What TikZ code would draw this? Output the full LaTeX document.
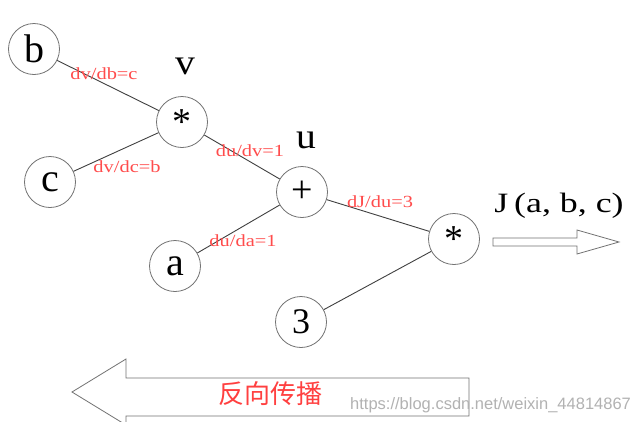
\documentclass[tikz,border=0pt]{standalone}
\usepackage{graphicx}
\usepackage{fontspec}
\setmainfont{Liberation Serif}
\newfontfamily\cjk{Noto Sans CJK SC}
\newfontfamily\wmfont{Liberation Sans}
\newcommand{\wide}[2]{\scalebox{#1}[1]{#2}}
\begin{document}
\begin{tikzpicture}[x=1pt,y=-1pt,
  opnode/.style={circle,draw=black!55,line width=0.8pt,minimum size=51pt,inner sep=0pt,font=\fontsize{40}{40}\selectfont,fill=white},
  edgeline/.style={draw=black!75,line width=0.9pt},
  elabel/.style={text=red!70!white,font=\fontsize{17}{17}\selectfont,inner sep=0pt},
  vlabel/.style={font=\fontsize{36}{36}\selectfont,inner sep=0pt},
  hollowarrow/.style={draw=black!55,line width=0.8pt,fill=white}]
\useasboundingbox (0,0) rectangle (637,421);
\fill[white] (0,0) rectangle (637,421);
% nodes
\node[opnode] (b) at (34,49) {b};
\node[opnode] (v) at (182,122) {\fontsize{38}{38}\selectfont\raisebox{-11.5pt}{*}};
\node[opnode] (c) at (50,182) {c};
\node[opnode] (u) at (302,192) {\fontsize{38}{38}\selectfont +};
\node[opnode] (a) at (175,266) {a};
\node[opnode] (J) at (454,239) {\fontsize{38}{38}\selectfont\raisebox{-11.5pt}{*}};
\node[opnode] (three) at (301,322) {\fontsize{36}{36}\selectfont 3};
% edges
\draw[edgeline] (b) -- (v);
\draw[edgeline] (c) -- (v);
\draw[edgeline] (v) -- (u);
\draw[edgeline] (a) -- (u);
\draw[edgeline] (u) -- (J);
\draw[edgeline] (three) -- (J);
% variable labels
\node[vlabel] (vl) at (185,66) {\wide{1.1}{v}};
\node[vlabel] (ul) at (306,140) {\wide{1.1}{u}};
\node[font=\fontsize{28}{28}\selectfont,inner sep=0pt] (Jl) at (559,206) {\wide{1.28}{J\,(a,\ b,\ c)}};
% edge labels
\node[elabel] (l1) at (104,74) {\wide{1.2}{dv/db=c}};
\node[elabel] (l2) at (127,167) {\wide{1.2}{dv/dc=b}};
\node[elabel] (l3) at (250,151) {\wide{1.2}{du/dv=1}};
\node[elabel] (l4) at (243,241) {\wide{1.2}{du/da=1}};
\node[elabel] (l5) at (380,202) {\wide{1.2}{dJ/du=3}};
% forward arrow
\draw[hollowarrow] (493,238) -- (577,238) -- (577,230) -- (619,242) -- (577,254) -- (577,246) -- (493,246) -- cycle;
% backward arrow
\draw[hollowarrow] (469,378) -- (126,378) -- (126,359) -- (72,392) -- (126,425) -- (126,416) -- (469,416) -- cycle;
\node[text=red!75!white,font=\cjk\fontsize{26}{26}\selectfont,inner sep=0pt] (bp) at (270,394) {反向传播};
% watermark
\node[text=black!30,font=\wmfont\fontsize{16.5}{16.5}\selectfont,anchor=west,inner sep=0pt] (wm) at (350,405) {https://blog.csdn.net/weixin\_44814867};
\end{tikzpicture}
\end{document}
